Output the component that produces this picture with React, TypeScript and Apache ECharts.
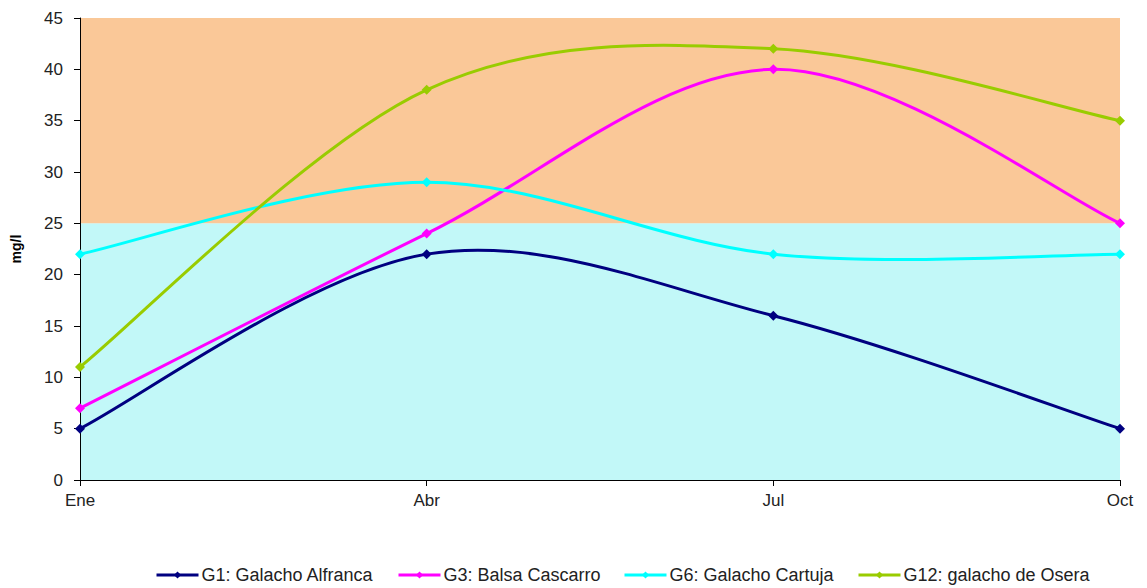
import React, { useEffect, useRef } from "react";
import * as echarts from "echarts";

const months = ["Ene", "Abr", "Jul", "Oct"];
const g1 = [5, 22, 16, 5];
const g3 = [7, 24, 40, 25];
const g6 = [22, 29, 22, 22];
const g12 = [11, 38, 42, 35];
const seriesNames = [
  "G1: Galacho Alfranca",
  "G3: Balsa Cascarro",
  "G6: Galacho Cartuja",
  "G12: galacho de Osera",
];
const seriesColors = ["#000080", "#FF00FF", "#00FFFF", "#99CC00"];
const legendLefts = [155, 397, 623, 857];
const bands = [
  { from: 0, to: 25, color: "#C2F8F8" },
  { from: 25, to: 45, color: "#FAC898" },
];

// Excel-like smoothed curve (Catmull-Rom style Bezier, 1/6 tension) built in pixel space
function smoothCurve(values: number[], color: string) {
  return (params: any, api: any) => {
    const pts = values.map((v, i) => api.coord([i, v]));
    const n = pts.length;
    const children: any[] = [];
    for (let i = 0; i < n - 1; i++) {
      const p0 = pts[i - 1 >= 0 ? i - 1 : i];
      const p1 = pts[i];
      const p2 = pts[i + 1];
      const p3 = pts[i + 2 < n ? i + 2 : i + 1];
      children.push({
        type: "bezierCurve",
        shape: {
          x1: p1[0],
          y1: p1[1],
          cpx1: p1[0] + (p2[0] - p0[0]) / 6,
          cpy1: p1[1] + (p2[1] - p0[1]) / 6,
          cpx2: p2[0] - (p3[0] - p1[0]) / 6,
          cpy2: p2[1] - (p3[1] - p1[1]) / 6,
          x2: p2[0],
          y2: p2[1],
        },
        style: { stroke: color, lineWidth: 3, fill: null },
        silent: true,
      });
    }
    return { type: "group", children };
  };
}

export default function App() {
  const ref = useRef<HTMLDivElement>(null);
  useEffect(() => {
    const chart = echarts.init(ref.current!, undefined, { renderer: "svg" });
    const data = [g1, g3, g6, g12];
    const lineSeries = seriesNames.map((name, i) => ({
      name,
      type: "line",
      data: data[i],
      symbol: "diamond",
      symbolSize: 10,
      z: 10 + i,
      itemStyle: { color: seriesColors[i] },
      lineStyle: { color: seriesColors[i], width: 3, opacity: 0 },
      markArea:
        i === 0
          ? {
              silent: true,
              z: 0,
              data: bands.map((b) => [
                { yAxis: b.from, itemStyle: { color: b.color } },
                { yAxis: b.to },
              ]),
            }
          : undefined,
    }));
    const curveSeries = data.map((vals, i) => ({
      type: "custom",
      data: [[0, vals[0]]],
      z: 5 + i,
      silent: true,
      renderItem: smoothCurve(vals, seriesColors[i]),
    }));
    chart.setOption({
      animation: false,
      textStyle: { fontFamily: "Liberation Sans, Arial, sans-serif" },
      grid: { left: 80, right: 27, top: 18, bottom: 108 },
      legend: seriesNames.map((name, i) => ({
        top: 566,
        left: legendLefts[i],
        itemWidth: 42,
        itemHeight: 9,
        padding: 0,
        textStyle: { fontSize: 18, color: "#222", padding: [0, 0, 0, -2] },
        data: [
          {
            name,
            lineStyle: { color: seriesColors[i], width: 3, opacity: 1 },
          },
        ],
      })),
      xAxis: {
        type: "category",
        data: months,
        boundaryGap: false,
        axisLine: { lineStyle: { color: "#000", width: 1 } },
        axisTick: { show: true, length: 6, lineStyle: { color: "#000" } },
        axisLabel: { fontSize: 17, color: "#222", margin: 12 },
      },
      yAxis: {
        type: "value",
        min: 0,
        max: 45,
        interval: 5,
        name: "mg/l",
        nameLocation: "middle",
        nameRotate: 90,
        nameGap: 57,
        nameTextStyle: { fontSize: 14, fontWeight: "bold", color: "#000" },
        axisLine: { show: true, lineStyle: { color: "#000", width: 1 } },
        axisTick: { show: true, length: 6, lineStyle: { color: "#000" } },
        axisLabel: { fontSize: 17, color: "#222", margin: 17 },
        splitLine: { show: false },
      },
      series: [...lineSeries, ...curveSeries],
    });
    return () => chart.dispose();
  }, []);
  return (
    <div
      ref={ref}
      style={{ position: "absolute", left: 0, top: 0, width: 1147, height: 588 }}
    />
  );
}
